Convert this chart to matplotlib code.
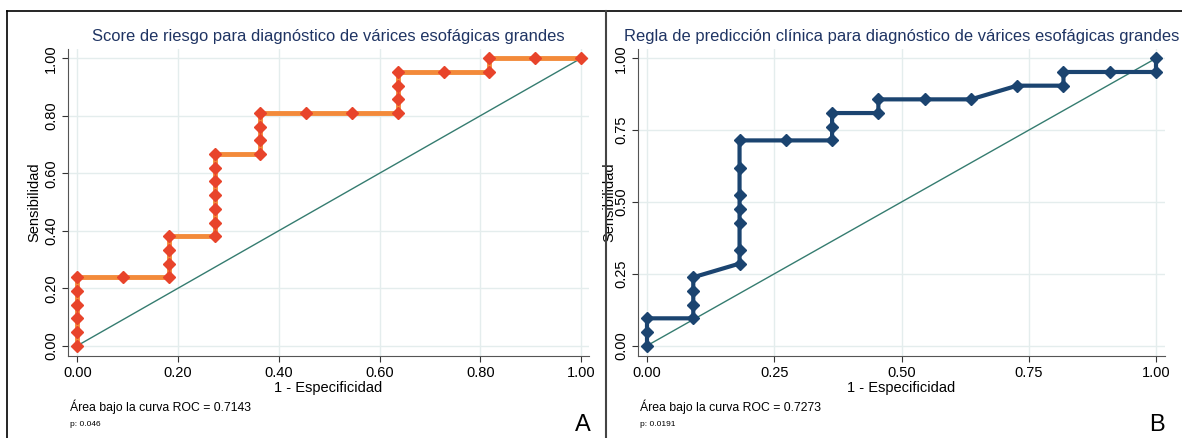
import numpy as np
import matplotlib
matplotlib.use("Agg")
import matplotlib.pyplot as plt
from matplotlib.lines import Line2D

plt.rcParams['font.family'] = ['Liberation Sans', 'DejaVu Sans']

# puntos ROC (numeradores: 1-especificidad /11, sensibilidad /21)
n_neg = 11
n_pos = 21
fpr_a = [0, 0, 0, 0, 0, 0, 1, 2, 2, 2, 2, 3, 3, 3, 3, 3, 3, 3, 4, 4, 4, 4, 5, 6, 7, 7, 7, 7, 8, 9, 9, 10, 11]
sens_a = [0, 1, 2, 3, 4, 5, 5, 5, 6, 7, 8, 8, 9, 10, 11, 12, 13, 14, 14, 15, 16, 17, 17, 17, 17, 18, 19, 20, 20, 20, 21, 21, 21]
fpr_b = [0, 0, 0, 1, 1, 1, 1, 2, 2, 2, 2, 2, 2, 2, 3, 4, 4, 4, 5, 5, 6, 7, 8, 9, 9, 10, 11, 11]
sens_b = [0, 1, 2, 2, 3, 4, 5, 6, 7, 9, 10, 11, 13, 15, 15, 15, 16, 17, 17, 18, 18, 18, 19, 19, 20, 20, 20, 21]

titulo_a = "Score de riesgo para diagnóstico de várices esofágicas grandes"
titulo_b = "Regla de predicción clínica para diagnóstico de várices esofágicas grandes"
ticks_a = [0, 0.2, 0.4, 0.6, 0.8, 1.0]
ticks_b = [0, 0.25, 0.5, 0.75, 1.0]
auc_a = "Área bajo la curva ROC = 0.7143"
auc_b = "Área bajo la curva ROC = 0.7273"
p_a = "p: 0.046"
p_b = "p: 0.0191"

W, H = 1182, 438
fig = plt.figure(figsize=(W / 100, H / 100), dpi=100)
fig.patch.set_facecolor('white')


def panel(px0, px1, x0pix, x1pix, fpr, sens, ticks, titulo, col_line, col_mark, lw, ylab_x):
    left = px0 / W
    width = (px1 - px0) / W
    ax = fig.add_axes([left, (H - 356) / H, width, 307 / H])
    ppu = (x1pix - x0pix)
    ax.set_xlim((px0 - x0pix) / ppu, (px1 - x0pix) / ppu)
    ax.set_ylim((345.7 - 356) / 287.4, (345.7 - 49) / 287.4)
    ax.plot([0, 1], [0, 1], color='#357c70', lw=1, zorder=2)
    x = np.array(fpr) / n_neg
    y = np.array(sens) / n_pos
    ax.plot(x, y, color=col_line, lw=lw, zorder=3)
    ax.plot(x, y, ls='none', marker='D', ms=6.5, color=col_mark, zorder=4)
    ax.set_xticks(ticks)
    ax.set_yticks(ticks)
    ax.set_xticklabels([f"{t:.2f}" for t in ticks], fontsize=10.5)
    ax.set_yticklabels([f"{t:.2f}" for t in ticks], fontsize=10.5, rotation=90, va='center')
    ax.grid(True, color='#e4eded', lw=1)
    ax.set_axisbelow(True)
    for s in ['top', 'right']:
        ax.spines[s].set_visible(False)
    for s in ['left', 'bottom']:
        ax.spines[s].set_color('#555555')
    ax.tick_params(colors='#333333', length=4, pad=3)
    ax.tick_params(axis='both', labelcolor='black')
    ax.set_xlabel("1 - Especificidad", fontsize=10.5, labelpad=1)
    ax.set_ylabel("Sensibilidad", fontsize=10.5)
    ax.yaxis.set_label_coords((ylab_x - px0) / (px1 - px0), 0.5)
    ax.set_title(titulo, fontsize=11.9, color='#1f3463', pad=6)
    return ax


ax_a = panel(68, 589, 77.3, 581, fpr_a, sens_a, ticks_a, titulo_a, '#f38a3a', '#e8442b', 3.5, 41)
ax_b = panel(638, 1165, 647, 1156, fpr_b, sens_b, ticks_b, titulo_b, '#1b4470', '#1b4470', 3, 616)

fig.text(70 / W, 1 - 407 / H, auc_a, fontsize=8.8, va='center')
fig.text(70 / W, 1 - 424 / H, p_a, fontsize=6, va='center')
fig.text(640 / W, 1 - 407 / H, auc_b, fontsize=8.8, va='center')
fig.text(640 / W, 1 - 424 / H, p_b, fontsize=6, va='center')
fig.text(583 / W, 1 - 425 / H, "A", fontsize=17, ha='center', va='center')
fig.text(1157 / W, 1 - 425 / H, "B", fontsize=17, ha='center', va='center')

# marcos de los paneles
fig.add_artist(Line2D([7 / W, 1], [1 - 11 / H, 1 - 11 / H], color='black', lw=1.2))
fig.add_artist(Line2D([7 / W, 7 / W], [0, 1 - 11 / H], color='black', lw=1.2))
fig.add_artist(Line2D([606 / W, 606 / W], [0, 1 - 11 / H], color='#444444', lw=1.5))

fig.savefig("out.png", dpi=100)
